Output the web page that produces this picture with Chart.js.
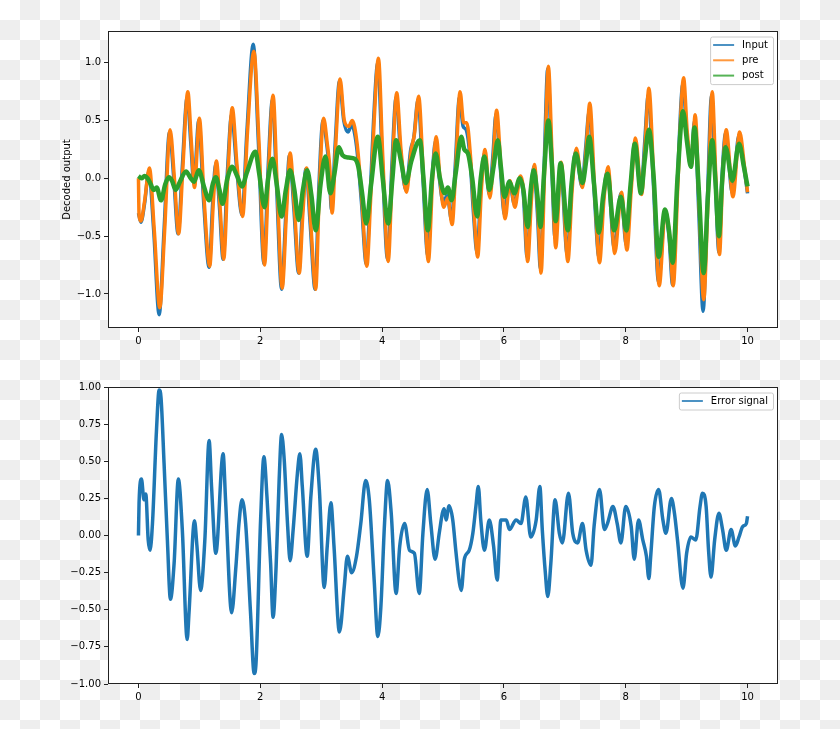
<!DOCTYPE html>
<html>
<head>
<meta charset="utf-8">
<script src="https://cdn.jsdelivr.net/npm/chart.js@4.4.0/dist/chart.umd.min.js"></script>
<style>
  html, body { margin: 0; padding: 0; }
  body {
    width: 840px; height: 729px; position: relative; overflow: hidden;
    background: repeating-conic-gradient(#eeeeee 0% 25%, #ffffff 0% 50%) 0 0 / 40px 40px;
  }
  canvas { position: absolute; left: 0; }
  #top { top: 0; }
  #bottom { top: 364px; }
</style>
</head>
<body>
<canvas id="top" width="840" height="364"></canvas>
<canvas id="bottom" width="840" height="365"></canvas>
<script>
// [time, value] pairs
const inputSeries = [
  [0.00,-0.30],[0.04,-0.38],[0.10,-0.22],[0.17,0.06],[0.25,-0.45],[0.34,-1.18],[0.42,-0.45],[0.51,0.40],
  [0.58,0.00],[0.65,-0.48],[0.72,0.10],[0.80,0.70],[0.86,0.30],[0.91,-0.05],[0.99,0.50],[1.07,-0.20],
  [1.16,-0.77],[1.22,-0.20],[1.27,0.13],[1.33,-0.25],[1.39,-0.70],[1.46,0.05],[1.53,0.55],[1.61,0.10],
  [1.70,-0.32],[1.78,0.40],[1.885,1.16],[1.97,0.30],[2.06,-0.74],[2.13,0.10],[2.20,0.68],[2.27,-0.10],
  [2.35,-0.96],[2.42,-0.30],[2.48,0.20],[2.55,-0.25],[2.63,-0.82],[2.69,-0.30],[2.75,0.08],[2.82,-0.40],
  [2.90,-0.96],[2.96,-0.10],[3.03,0.50],[3.09,0.30],[3.13,0.10],[3.17,-0.27],[3.23,0.30],[3.30,0.84],
  [3.37,0.50],[3.44,0.40],[3.50,0.46],[3.58,0.28],[3.66,-0.20],[3.74,-0.74],[3.80,-0.20],[3.86,0.50],
  [3.93,1.00],[4.00,0.20],[4.09,-0.70],[4.16,0.10],[4.23,0.70],[4.30,0.25],[4.39,-0.10],[4.47,0.25],
  [4.52,0.35],[4.59,0.68],[4.67,0.00],[4.75,-0.67],[4.82,0.00],[4.88,0.33],[4.94,0.00],[5.00,-0.20],
  [5.07,-0.15],[5.14,-0.36],[5.20,0.10],[5.27,0.70],[5.33,0.45],[5.38,0.42],[5.44,0.20],[5.50,-0.30],
  [5.56,-0.65],[5.62,-0.10],[5.68,0.22],[5.76,-0.14],[5.82,0.20],[5.87,0.56],[5.94,0.10],[6.01,-0.32],
  [6.09,-0.02],[6.17,-0.22],[6.26,0.00],[6.32,-0.15],[6.38,-0.68],[6.44,-0.20],[6.49,0.10],[6.55,-0.30],
  [6.60,-0.78],[6.66,0.10],[6.72,0.95],[6.78,0.20],[6.84,-0.52],[6.93,0.12],[7.04,-0.66],[7.11,-0.10],
  [7.18,0.24],[7.28,-0.07],[7.34,0.25],[7.40,0.58],[7.48,-0.10],[7.56,-0.68],[7.63,-0.20],[7.70,0.07],
  [7.81,-0.60],[7.92,-0.13],[8.01,-0.58],[8.08,-0.10],[8.15,0.32],[8.25,-0.13],[8.31,0.30],[8.37,0.72],
  [8.45,0.00],[8.54,-0.90],[8.645,-0.29],[8.71,-0.50],[8.77,-0.92],[8.85,0.00],[8.94,0.82],[9.00,0.40],
  [9.07,0.10],[9.13,0.50],[9.20,-0.30],[9.27,-1.15],[9.34,-0.20],[9.41,0.72],[9.47,0.00],[9.53,-0.64],
  [9.58,0.00],[9.64,0.39],[9.75,-0.13],[9.86,0.38],[9.94,0.10],[10.00,-0.13]
];
const preSeries = [
  [0.00,0.00],[0.01,-0.32],[0.04,-0.37],[0.10,-0.20],[0.18,0.09],[0.26,-0.45],[0.35,-1.12],[0.43,-0.45],
  [0.52,0.42],[0.59,0.00],[0.66,-0.48],[0.73,0.10],[0.81,0.75],[0.87,0.30],[0.92,-0.08],[1.00,0.52],
  [1.08,-0.20],[1.17,-0.76],[1.23,-0.20],[1.28,0.15],[1.34,-0.25],[1.40,-0.70],[1.47,0.05],[1.54,0.61],
  [1.62,0.10],[1.71,-0.33],[1.79,0.40],[1.895,1.10],[1.98,0.30],[2.07,-0.75],[2.14,0.10],[2.21,0.72],
  [2.28,-0.10],[2.36,-0.95],[2.43,-0.30],[2.49,0.22],[2.56,-0.25],[2.64,-0.82],[2.70,-0.30],[2.76,0.09],
  [2.83,-0.40],[2.91,-0.96],[2.97,-0.10],[3.04,0.52],[3.10,0.30],[3.14,0.10],[3.18,-0.30],[3.24,0.30],
  [3.31,0.86],[3.38,0.50],[3.45,0.45],[3.51,0.50],[3.59,0.30],[3.67,-0.20],[3.75,-0.76],[3.81,-0.20],
  [3.87,0.50],[3.94,1.04],[4.01,0.20],[4.10,-0.72],[4.17,0.10],[4.24,0.74],[4.31,0.25],[4.40,-0.12],
  [4.48,0.25],[4.53,0.38],[4.60,0.71],[4.68,0.00],[4.76,-0.72],[4.83,0.00],[4.89,0.36],[4.95,0.00],
  [5.01,-0.25],[5.08,-0.17],[5.15,-0.40],[5.21,0.10],[5.28,0.75],[5.34,0.48],[5.39,0.48],[5.45,0.20],
  [5.51,-0.30],[5.57,-0.68],[5.63,-0.10],[5.69,0.25],[5.77,-0.17],[5.83,0.20],[5.88,0.59],[5.95,0.10],
  [6.02,-0.35],[6.10,-0.02],[6.18,-0.25],[6.27,0.02],[6.33,-0.15],[6.39,-0.72],[6.45,-0.20],[6.50,0.12],
  [6.56,-0.30],[6.61,-0.82],[6.67,0.10],[6.73,0.97],[6.79,0.20],[6.85,-0.60],[6.94,0.14],[7.05,-0.72],
  [7.12,-0.10],[7.19,0.26],[7.29,-0.08],[7.35,0.25],[7.41,0.65],[7.49,-0.10],[7.57,-0.73],[7.64,-0.20],
  [7.71,0.10],[7.82,-0.65],[7.93,-0.12],[8.02,-0.62],[8.09,-0.10],[8.16,0.35],[8.26,-0.14],[8.32,0.30],
  [8.38,0.78],[8.46,0.00],[8.55,-0.93],[8.65,-0.28],[8.72,-0.50],[8.78,-0.93],[8.86,0.00],[8.95,0.87],
  [9.01,0.40],[9.08,0.12],[9.14,0.55],[9.21,-0.30],[9.28,-1.05],[9.35,-0.20],[9.42,0.75],[9.48,0.00],
  [9.54,-0.66],[9.59,0.00],[9.65,0.42],[9.76,-0.16],[9.87,0.40],[9.95,0.10],[10.00,-0.12]
];
const postSeries = [
  [0.00,0.02],[0.05,0.00],[0.10,0.02],[0.15,0.00],[0.20,-0.05],[0.25,-0.10],[0.30,-0.08],[0.37,-0.19],
  [0.44,-0.05],[0.50,0.01],[0.55,-0.02],[0.61,-0.10],[0.68,-0.03],[0.78,0.06],[0.86,0.00],[0.91,-0.03],
  [0.99,0.07],[1.08,-0.08],[1.16,-0.19],[1.22,-0.05],[1.27,0.01],[1.33,-0.10],[1.38,-0.22],[1.46,0.00],
  [1.54,0.10],[1.62,0.02],[1.70,-0.07],[1.78,0.05],[1.92,0.23],[1.98,0.05],[2.07,-0.25],[2.13,0.00],
  [2.20,0.17],[2.27,-0.05],[2.35,-0.33],[2.42,-0.10],[2.49,0.07],[2.56,-0.10],[2.63,-0.36],[2.70,-0.10],
  [2.77,0.07],[2.84,-0.15],[2.91,-0.45],[2.99,-0.05],[3.07,0.19],[3.15,-0.13],[3.22,0.05],[3.29,0.27],
  [3.35,0.20],[3.45,0.18],[3.55,0.17],[3.61,0.10],[3.67,-0.12],[3.74,-0.39],[3.82,-0.05],[3.93,0.36],
  [4.01,0.00],[4.10,-0.39],[4.17,0.00],[4.23,0.33],[4.31,0.15],[4.39,-0.04],[4.48,0.15],[4.62,0.33],
  [4.68,0.00],[4.75,-0.45],[4.82,0.00],[4.88,0.215],[4.95,0.00],[5.03,-0.13],[5.08,-0.08],[5.14,-0.19],
  [5.21,0.05],[5.30,0.36],[5.35,0.25],[5.41,0.215],[5.48,0.00],[5.56,-0.33],[5.62,0.00],[5.68,0.19],
  [5.76,-0.10],[5.83,0.10],[5.90,0.33],[5.95,0.10],[6.01,-0.16],[6.09,-0.03],[6.17,-0.13],[6.26,0.00],
  [6.32,-0.10],[6.39,-0.42],[6.44,-0.10],[6.49,0.07],[6.55,-0.15],[6.60,-0.42],[6.66,0.05],[6.73,0.50],
  [6.79,0.10],[6.85,-0.37],[6.93,0.13],[7.05,-0.45],[7.11,-0.05],[7.18,0.215],[7.29,-0.04],[7.35,0.15],
  [7.40,0.36],[7.48,-0.05],[7.56,-0.47],[7.63,-0.15],[7.70,0.04],[7.81,-0.45],[7.92,-0.16],[8.01,-0.45],
  [8.08,-0.05],[8.15,0.30],[8.25,-0.13],[8.31,0.15],[8.38,0.42],[8.46,0.00],[8.54,-0.68],[8.645,-0.27],
  [8.71,-0.45],[8.77,-0.73],[8.85,0.00],[8.94,0.58],[9.01,0.30],[9.07,0.10],[9.13,0.44],[9.20,-0.10],
  [9.28,-0.82],[9.35,-0.15],[9.42,0.33],[9.47,0.00],[9.53,-0.50],[9.58,-0.05],[9.64,0.27],[9.75,-0.02],
  [9.86,0.30],[9.94,0.10],[10.00,-0.07]
];
const errorSeries = [
  [0.00,0.00],[0.01,0.22],[0.05,0.38],[0.09,0.24],[0.12,0.28],[0.16,-0.03],[0.19,-0.10],[0.23,0.08],
  [0.295,0.70],[0.34,0.98],[0.37,0.93],[0.42,0.49],[0.475,-0.03],[0.525,-0.43],[0.585,-0.19],[0.655,0.38],
  [0.72,0.04],[0.80,-0.70],[0.83,-0.52],[0.92,0.10],[0.96,-0.07],[1.02,-0.37],[1.09,-0.03],[1.16,0.64],
  [1.20,0.33],[1.27,-0.12],[1.39,0.55],[1.43,0.24],[1.53,-0.52],[1.60,-0.21],[1.65,0.08],[1.70,0.24],
  [1.76,0.08],[1.84,-0.52],[1.90,-0.93],[1.93,-0.86],[2.005,0.10],[2.06,0.53],[2.11,0.26],[2.17,-0.19],
  [2.21,-0.55],[2.26,-0.21],[2.31,0.375],[2.35,0.68],[2.39,0.53],[2.45,0.06],[2.49,-0.17],[2.54,0.04],
  [2.61,0.42],[2.65,0.55],[2.69,0.33],[2.77,-0.14],[2.83,0.26],[2.91,0.58],[2.97,0.31],[3.05,-0.35],
  [3.10,-0.07],[3.16,0.22],[3.21,-0.07],[3.30,-0.65],[3.38,-0.34],[3.43,-0.14],[3.50,-0.25],[3.58,-0.14],
  [3.65,0.08],[3.73,0.37],[3.79,0.24],[3.87,-0.30],[3.93,-0.68],[3.98,-0.48],[4.04,0.08],[4.09,0.37],
  [4.15,0.15],[4.23,-0.39],[4.29,-0.07],[4.37,0.08],[4.45,-0.10],[4.53,-0.12],[4.61,-0.39],[4.67,0.015],
  [4.74,0.31],[4.80,0.08],[4.87,-0.16],[4.94,0.02],[4.99,0.15],[5.02,0.18],[5.05,0.105],[5.10,0.20],
  [5.16,0.105],[5.21,-0.10],[5.27,-0.32],[5.30,-0.37],[5.35,-0.16],[5.43,-0.10],[5.49,0.015],[5.54,0.195],
  [5.58,0.33],[5.62,0.105],[5.68,-0.10],[5.76,0.105],[5.83,-0.07],[5.89,-0.30],[5.95,0.105],[6.04,0.105],
  [6.09,0.04],[6.20,0.105],[6.28,0.08],[6.36,0.26],[6.44,-0.01],[6.53,0.105],[6.59,0.33],[6.63,0.04],
  [6.68,-0.25],[6.72,-0.41],[6.77,-0.19],[6.84,0.24],[6.91,0.015],[6.96,-0.05],[7.06,0.285],[7.13,0.015],
  [7.21,-0.05],[7.29,0.08],[7.35,-0.10],[7.43,-0.20],[7.48,0.06],[7.57,0.31],[7.65,0.04],[7.70,0.08],
  [7.79,0.195],[7.86,0.08],[7.92,-0.05],[8.00,0.195],[8.09,0.06],[8.14,-0.16],[8.21,0.105],[8.28,-0.03],
  [8.34,-0.14],[8.38,-0.29],[8.41,-0.14],[8.47,0.195],[8.54,0.31],[8.61,0.105],[8.66,0.015],[8.75,0.25],
  [8.80,0.15],[8.85,-0.03],[8.94,-0.355],[9.00,-0.12],[9.07,-0.01],[9.15,-0.03],[9.22,0.195],[9.26,0.285],
  [9.32,0.195],[9.36,-0.10],[9.40,-0.28],[9.46,-0.03],[9.53,0.15],[9.59,0.04],[9.65,-0.10],[9.73,0.04],
  [9.80,-0.07],[9.86,-0.01],[9.92,0.06],[9.98,0.08],[10.00,0.13]
];

const xTicks = [0, 2, 4, 6, 8, 10];
const topYTicks = [-1.0, -0.5, 0.0, 0.5, 1.0];
const bottomYTicks = [-1.0, -0.75, -0.5, -0.25, 0.0, 0.25, 0.5, 0.75, 1.0];

const FONT = { family: '"DejaVu Sans", sans-serif', size: 10 };
const toPoints = s => s.map(([t, v]) => ({ x: t, y: v }));
const fmt = digits => v => (v < 0 ? '\u2212' : '') + Math.abs(v).toFixed(digits);

// white axes face + black frame, matplotlib style
const framePlugin = {
    id: 'frame',
    beforeDraw(chart) {
        const { ctx, chartArea: a } = chart;
        ctx.save();
        ctx.fillStyle = '#ffffff';
        ctx.fillRect(a.left, a.top, a.right - a.left, a.bottom - a.top);
        ctx.restore();
    },
    afterDraw(chart) {
        const { ctx, chartArea: a } = chart;
        ctx.save();
        ctx.strokeStyle = '#222';
        ctx.lineWidth = 1;
        ctx.strokeRect(Math.round(a.left) + 0.5, Math.round(a.top) + 0.5,
            Math.round(a.right - a.left) - 1, Math.round(a.bottom - a.top) - 1);
        ctx.restore();
    }
};

// upper-right boxed legend
const legendPlugin = {
    id: 'mplLegend',
    afterDraw(chart) {
        const { ctx, chartArea: a } = chart;
        const items = chart.data.datasets.filter(d => d.legendColor);
        ctx.save();
        ctx.font = '10px "DejaVu Sans", sans-serif';
        const textW = Math.max(...items.map(d => ctx.measureText(d.label).width));
        const w = 32 + textW + 5;
        const h = 17 + 15.3 * (items.length - 1);
        const x0 = a.right - 5 - w;
        const y0 = a.top + 5.5;
        ctx.beginPath();
        ctx.roundRect(x0 + 0.5, y0 + 0.5, w, h, 2);
        ctx.fillStyle = 'rgba(255,255,255,0.8)';
        ctx.fill();
        ctx.strokeStyle = '#cccccc';
        ctx.lineWidth = 1;
        ctx.stroke();
        items.forEach((d, i) => {
            const cy = y0 + 8.5 + i * 15.3;
            ctx.strokeStyle = d.legendColor;
            ctx.lineWidth = 2;
            ctx.beginPath();
            ctx.moveTo(x0 + 3, cy);
            ctx.lineTo(x0 + 24, cy);
            ctx.stroke();
            ctx.fillStyle = '#000';
            ctx.textBaseline = 'middle';
            ctx.fillText(d.label, x0 + 32, cy);
        });
        ctx.restore();
    }
};

const lineSet = (label, series, color, legendColor, width, order) => ({
    label,
    data: toPoints(series),
    borderColor: color,
    legendColor,
    borderWidth: width,
    pointRadius: 0,
    cubicInterpolationMode: 'monotone',
    fill: false,
    order
});

const makeOptions = (yMin, yMax, yTicks, digits, padTop, xAxisHeight, yTitle) => ({
    responsive: false,
    animation: false,
    events: [],
    layout: { padding: { top: padTop, right: 62, left: 0, bottom: 0 } },
    plugins: { legend: { display: false }, tooltip: { enabled: false } },
    scales: {
        x: {
            type: 'linear',
            min: -0.5,
            max: 10.5,
            afterBuildTicks: s => { s.ticks = xTicks.map(v => ({ value: v })); },
            afterFit: s => { s.height = xAxisHeight; },
            grid: { drawOnChartArea: false, drawTicks: true, tickLength: 4, tickColor: '#222' },
            border: { display: false },
            ticks: { font: FONT, color: '#000', padding: 3, maxRotation: 0, autoSkip: false }
        },
        y: {
            min: yMin,
            max: yMax,
            afterBuildTicks: s => { s.ticks = yTicks.map(v => ({ value: v })); },
            afterFit: s => { s.width = 108; },
            grid: { drawOnChartArea: false, drawTicks: true, tickLength: 4, tickColor: '#222' },
            border: { display: false },
            ticks: { font: FONT, color: '#000', padding: 3, autoSkip: false, callback: fmt(digits) },
            title: yTitle
                ? { display: true, text: yTitle, font: FONT, color: '#000', padding: { top: 61, bottom: 0 } }
                : { display: false }
        }
    }
});

new Chart(document.getElementById('top'), {
    type: 'line',
    data: {
        datasets: [
            lineSet('Input', inputSeries, '#1f77b4', 'rgba(31,119,180,0.8)', 3.5, 3),
            lineSet('pre', preSeries, '#ff7f0e', 'rgba(255,127,14,0.8)', 3.5, 2),
            lineSet('post', postSeries, '#2ca02c', 'rgba(44,160,44,0.8)', 4.5, 1)
        ]
    },
    options: makeOptions(-1.295, 1.275, topYTicks, 1, 31, 36, 'Decoded output'),
    plugins: [framePlugin, legendPlugin]
});

new Chart(document.getElementById('bottom'), {
    type: 'line',
    data: {
        datasets: [
            lineSet('Error signal', errorSeries, '#1f77b4', 'rgba(31,119,180,0.8)', 3.5, 1)
        ]
    },
    options: makeOptions(-1, 1, bottomYTicks, 2, 23, 45, null),
    plugins: [framePlugin, legendPlugin]
});
</script>
</body>
</html>
